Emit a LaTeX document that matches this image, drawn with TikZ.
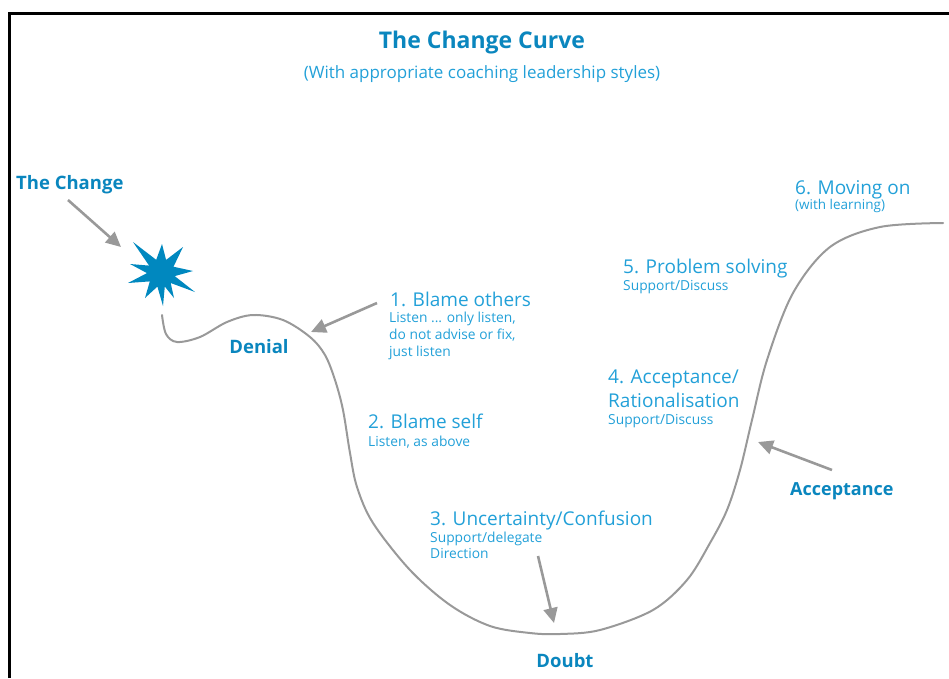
\documentclass[tikz,border=0pt]{standalone}
\usepackage{fontspec}
\setmainfont{Open Sans}
\usetikzlibrary{arrows.meta}
\definecolor{cbold}{HTML}{0A86BE}
\definecolor{ctext}{HTML}{22A0D8}
\definecolor{cgray}{HTML}{999999}
\definecolor{cstar}{HTML}{0088BF}
\begin{document}
\begin{tikzpicture}[x=1pt,y=-1pt,
  boldlab/.style={font=\bfseries\fontsize{18.5}{22}\selectfont, text=cbold, inner sep=0pt},
  headlab/.style={font=\fontsize{19}{22}\selectfont, text=ctext, inner sep=0pt, anchor=base west},
  sublab/.style={font=\fontsize{13.8}{17}\selectfont, text=ctext, inner sep=0pt, anchor=base west},
  pointer/.style={draw=cgray, line width=2.6pt, -{Triangle[length=15pt,width=14pt]}},
  curveline/.style={draw=cgray, line width=2pt, line cap=round}]
\useasboundingbox (0,0) rectangle (949,678);
% frame
\draw[line width=3pt] (9,678) -- (9,13) -- (949,13);
% titles
\node[font=\bfseries\fontsize{23}{26}\selectfont, text=cbold, inner sep=0pt, anchor=base] (title) at (482,48) {The Change Curve};
\node[font=\fontsize{17}{20}\selectfont, text=ctext, inner sep=0pt, anchor=base] (subtitle) at (482,78) {(With appropriate coaching leadership styles)};
% star
\fill[cstar, shift={(161,273)}] (-28,-31) -- (-4.8,-13.2) -- (1,-29) -- (5.1,-13.1) -- (22,-26) -- (12.5,-6.3) -- (32,-2) -- (13.7,3.1) -- (34,19) -- (9.7,10) -- (13,25) -- (3.8,13.5) -- (2,33) -- (-3.6,13.6) -- (-16,25) -- (-11.2,8.4) -- (-33,10) -- (-14,0.1) -- (-31,-9) -- (-11.9,-7.4) -- cycle;
% curve
\draw[curveline] plot[smooth, tension=0.55] coordinates {(162,315) (166,334) (177,342) (200,337) (227,322) (253,315) (283,320) (310,337) (325,355) (335,380) (343,410) (350,453) (357,487) (373,523) (410,570) (450,605) (490,626) (530,633) (560,634) (600,630) (653,610) (687,580) (710,543) (727,510) (740,470) (752,420) (767,360) (793,293) (830,247) (880,227) (943,223)};
% bold labels
\node[boldlab, anchor=base west] (change) at (16,189) {The Change};
\node[boldlab, anchor=base] (denial) at (259,353) {Denial};
\node[boldlab, anchor=base] (doubt) at (565,667) {Doubt};
\node[boldlab, anchor=base west, font=\bfseries\fontsize{18}{22}\selectfont] (accept) at (790,495) {Acceptance};
% stage labels
\node[headlab] (s1) at (390,306) {1. Blame others};
\node[sublab] (s1a) at (389,322) {Listen ... only listen,};
\node[sublab] (s1b) at (389,339) {do not advise or fix,};
\node[sublab] (s1c) at (389,356) {just listen};
\node[headlab] (s2) at (368,428) {2. Blame self};
\node[sublab] (s2a) at (368,446) {Listen, as above};
\node[headlab] (s3) at (430,525) {3. Uncertainty/Confusion};
\node[sublab] (s3a) at (430,542) {Support/delegate};
\node[sublab] (s3b) at (430,558) {Direction};
\node[headlab] (s4) at (608,383) {4. Acceptance/};
\node[headlab] (s4b) at (608,407) {Rationalisation};
\node[sublab] (s4a) at (608,424) {Support/Discuss};
\node[headlab] (s5) at (623,273) {5. Problem solving};
\node[sublab] (s5a) at (623,290) {Support/Discuss};
\node[headlab] (s6) at (795,194) {6. Moving on};
\node[sublab, font=\fontsize{13.5}{16}\selectfont] (s6a) at (795,209) {(with learning)};
% arrow endpoints
\coordinate (t1) at (68,200); \coordinate (h1) at (121,247);
\coordinate (t2) at (377,303); \coordinate (h2) at (311,332);
\coordinate (t3) at (538,556); \coordinate (h3) at (554,623);
\coordinate (t4) at (832,470); \coordinate (h4) at (758,442);
\draw[pointer] (t1) -- (h1);
\draw[pointer] (t2) -- (h2);
\draw[pointer] (t3) -- (h3);
\draw[pointer] (t4) -- (h4);
\end{tikzpicture}
\end{document}
